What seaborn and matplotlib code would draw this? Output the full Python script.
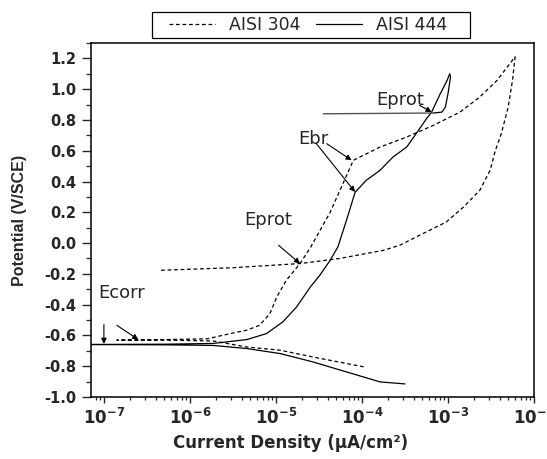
import numpy as np
import pandas as pd
import matplotlib
matplotlib.use('Agg')
import matplotlib.pyplot as plt
import seaborn as sns
from matplotlib.patches import Rectangle
from matplotlib.ticker import MultipleLocator, FuncFormatter, LogLocator

# values: log10(current density), potential (V/SCE)
# AISI 304 (dashed): cathodic end -> Ecorr -> anodic branch -> vertex -> reverse scan
log_i_304 = [-3.98, -4.57, -4.95, -5.34, -5.73, -6.30, -6.85,
             -6.30, -5.80, -5.53, -5.34, -5.19, -5.07, -4.99, -4.88, -4.72,
             -4.60, -4.37, -4.10, -3.79, -3.48, -3.17, -2.86, -2.63, -2.43, -2.22,
             -2.25, -2.30, -2.38, -2.45, -2.51, -2.63, -2.82, -3.02, -3.29, -3.56,
             -3.75, -4.26, -4.72, -5.50, -6.35]
e_304 = [-0.804, -0.740, -0.696, -0.675, -0.636, -0.630, -0.631,
         -0.627, -0.622, -0.588, -0.566, -0.534, -0.458, -0.350, -0.242, -0.133,
         -0.030, 0.200, 0.538, 0.624, 0.689, 0.765, 0.851, 0.949, 1.057, 1.210,
         1.057, 0.884, 0.711, 0.600, 0.473, 0.343, 0.234, 0.137, 0.062, -0.014,
         -0.047, -0.100, -0.133, -0.160, -0.177]

# AISI 444 (solid)
log_i_444 = [-3.50, -3.79, -4.18, -4.57, -4.95, -5.34, -5.73, -6.30, -7.40,
             -6.30, -5.73, -5.34, -5.11, -4.92, -4.76, -4.60, -4.49, -4.37,
             -4.28, -4.18, -4.08, -3.95, -3.79, -3.64, -3.48, -3.37, -3.25,
             -3.19, -3.09, -3.01, -2.98,
             -2.97, -3.00, -3.03, -3.07, -3.17]
e_444 = [-0.915, -0.902, -0.837, -0.772, -0.718, -0.685, -0.665, -0.661, -0.659,
         -0.657, -0.652, -0.627, -0.588, -0.512, -0.415, -0.285, -0.209, -0.112,
         -0.025, 0.148, 0.330, 0.408, 0.473, 0.559, 0.624, 0.711, 0.808,
         0.851, 0.970, 1.057, 1.100,
         1.080, 0.970, 0.884, 0.851, 0.845]

# Eprot level line of AISI 444
log_i_level = [-4.45, -3.17]
e_level = [0.840, 0.845]

# annotation texts (log10 i, E)
note_text = ['Ecorr', 'Eprot', 'Ebr', 'Eprot']
note_x = [-7.07, -5.09, -4.74, -3.56]
note_y = [-0.326, 0.15, 0.676, 0.927]
note_ha = ['left', 'center', 'left', 'center']

# arrows: tail -> tip (log10 i, E)
arrow_tail = [(-7.0, -0.53), (-6.85, -0.534), (-4.97, -0.014),
              (-4.41, 0.646), (-4.53, 0.646), (-3.33, 0.895)]
arrow_tip = [(-7.0, -0.655), (-6.60, -0.627), (-4.72, -0.133),
             (-4.12, 0.538), (-4.08, 0.332), (-3.19, 0.851)]

sns.set_style('ticks')
plt.rcParams['font.family'] = ['DejaVu Sans']
plt.rcParams['mathtext.fontset'] = 'dejavusans'
plt.rcParams['axes.unicode_minus'] = False

df304 = pd.DataFrame({'i': 10.0 ** np.array(log_i_304), 'E': e_304})
df444 = pd.DataFrame({'i': 10.0 ** np.array(log_i_444), 'E': e_444})

fig = plt.figure(figsize=(5.47, 4.59), dpi=100)
ax = fig.add_axes([91 / 547, 1 - 397 / 459, (534 - 91) / 547, (397 - 43) / 459])

sns.lineplot(data=df304, x='i', y='E', sort=False, estimator=None, ax=ax,
             color='black', lw=0.9, label='AISI 304')
ax.lines[-1].set_linestyle((0, (3, 2.2)))
sns.lineplot(data=df444, x='i', y='E', sort=False, estimator=None, ax=ax,
             color='black', lw=0.9, label='AISI 444')
sns.lineplot(x=10.0 ** np.array(log_i_level), y=e_level, sort=False, estimator=None,
             ax=ax, color='#555555', lw=1.0, legend=False)

ax.set_xscale('log')
ax.set_xlim(10 ** -7.15, 1e-2)
ax.set_ylim(-1.0, 1.3)

ax.yaxis.set_major_locator(MultipleLocator(0.2))
ax.yaxis.set_minor_locator(MultipleLocator(0.1))
ax.yaxis.set_major_formatter(FuncFormatter(lambda v, p: f'{v:.1f}' if v <= 1.21 else ''))
ax.xaxis.set_major_locator(LogLocator(base=10, numticks=12))
ax.xaxis.set_minor_locator(LogLocator(base=10, subs=np.arange(2, 10), numticks=12))
ax.xaxis.set_major_formatter(FuncFormatter(lambda v, p: r'$\mathbf{10^{%d}}$' % round(np.log10(v))))

ax.tick_params(axis='y', which='major', direction='out', length=6.5, width=1.0, labelsize=10.5, pad=4)
ax.tick_params(axis='y', which='minor', direction='out', length=3.5, width=0.9)
ax.tick_params(axis='x', which='major', direction='out', length=4, width=1.0, labelsize=12, pad=3.5)
ax.tick_params(axis='x', which='minor', direction='out', length=2.2, width=0.9)
for lab in ax.get_yticklabels():
    lab.set_fontweight('bold')
for s in ax.spines.values():
    s.set_linewidth(1.1)
    s.set_color('black')

ax.set_xlabel('Current Density (µA/cm²)', fontsize=12, fontweight='bold')
ax.xaxis.set_label_coords((291 - 91) / 443, -(443 - 397) / 354)
ax.xaxis.label.set_verticalalignment('center')
ax.set_ylabel('Potential (V/SCE)', fontsize=11.5, fontweight='bold',
              family=['Liberation Sans', 'DejaVu Sans'])
ax.yaxis.set_label_coords((20 - 91) / 443, 0.5)
ax.yaxis.label.set_verticalalignment('center')

for t, x, y, ha in zip(note_text, note_x, note_y, note_ha):
    ax.text(10 ** x, y, t, fontsize=13, ha=ha, va='center')
for (tx, ty), (hx, hy) in zip(arrow_tail, arrow_tip):
    ax.annotate('', xy=(10 ** hx, hy), xytext=(10 ** tx, ty),
                arrowprops=dict(arrowstyle='-|>', color='black', lw=0.8,
                                mutation_scale=8, shrinkA=0, shrinkB=0))

# legend box above the plot
fig.patches.append(Rectangle((152 / 547, 1 - 38 / 459), 318 / 547, 26 / 459,
                             transform=fig.transFigure, fill=False,
                             ec='black', lw=0.9))
leg_fs = 12.5
px = leg_fs * 100 / 72
ax.legend(loc='center left', bbox_to_anchor=(169 / 547, 1 - 25 / 459),
          bbox_transform=fig.transFigure, ncol=2, frameon=False,
          fontsize=leg_fs, handlelength=46 / px, handletextpad=14 / px,
          columnspacing=15 / px, borderpad=0, borderaxespad=0)

fig.savefig('out.png', dpi=100)
